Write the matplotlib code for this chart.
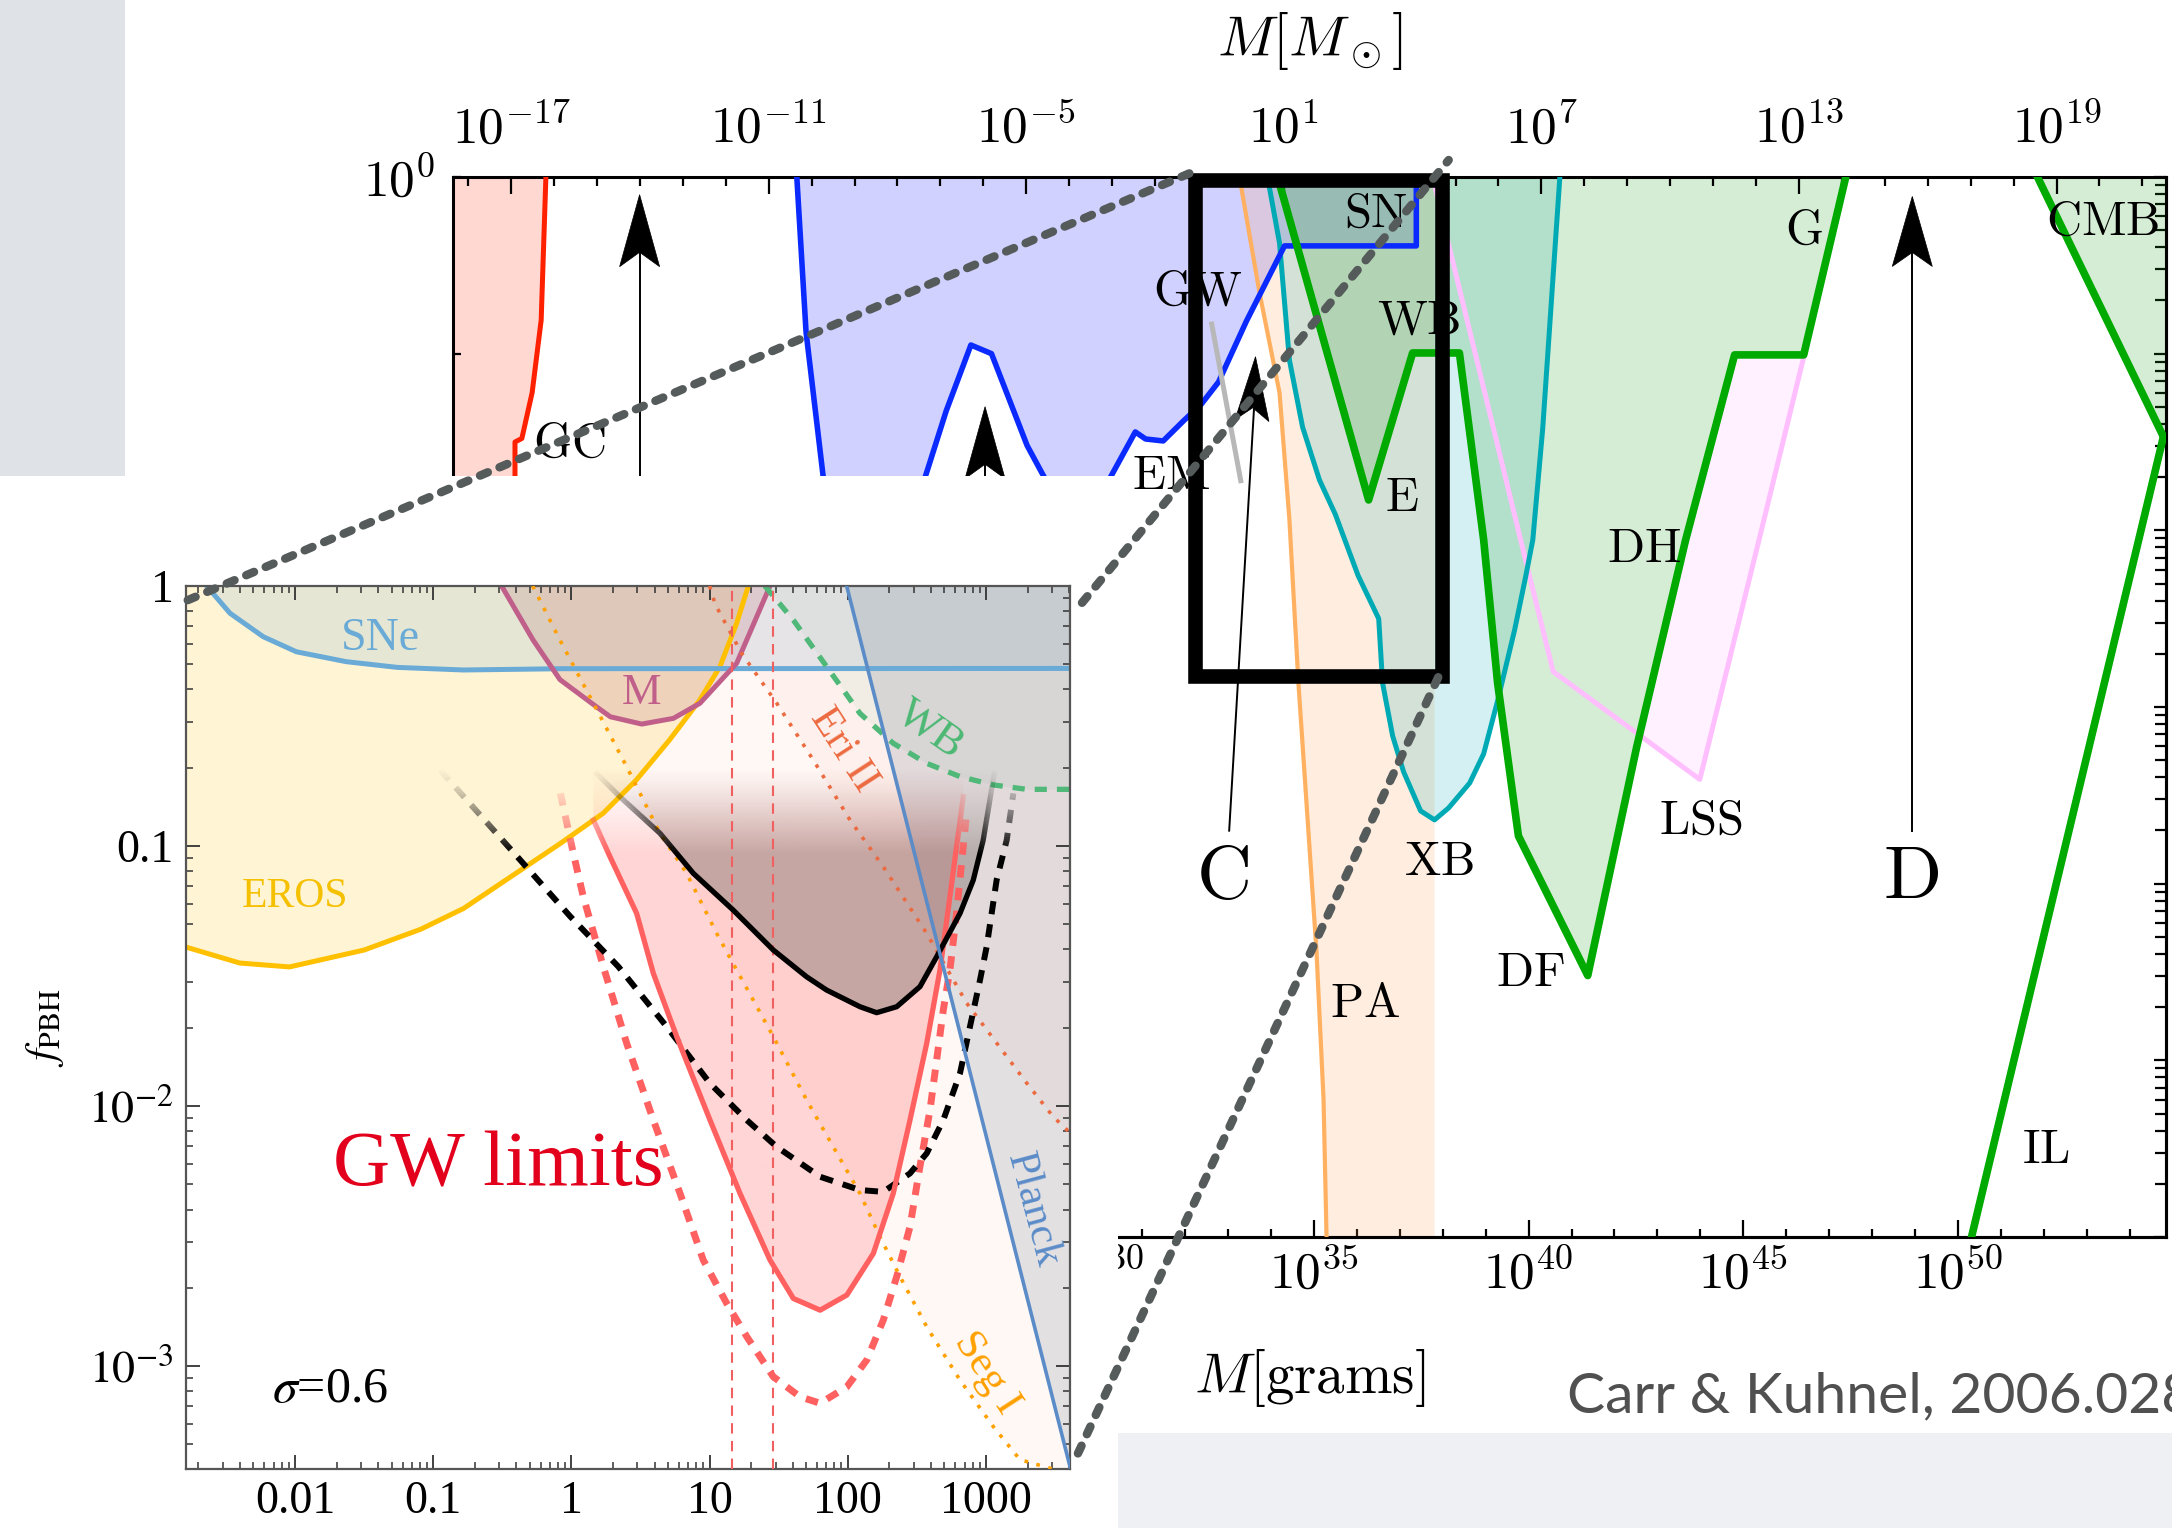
import numpy as np
import matplotlib
matplotlib.use("Agg")
import matplotlib.pyplot as plt
from matplotlib.patches import Rectangle, Polygon, ConnectionPatch
from matplotlib.transforms import Affine2D, ScaledTranslation
from matplotlib.ticker import FixedLocator, NullFormatter, FuncFormatter, LogLocator
from matplotlib.colors import to_rgb

plt.rcParams["mathtext.fontset"] = "cm"
plt.rcParams["font.family"] = ["DejaVu Sans"]

MSUN_G = 1.989e33

# ================= TOP PANEL (Carr & Kuhnel) : log10(M/Msun), log10 f =================
evap_logm = [-16.19, -16.30, -16.51, -16.75, -16.91, -16.91]
evap_logf = [0.0, -0.81, -1.22, -1.48, -1.50, -2.3]

lens_logm = [-10.345, -10.13, -9.73, -9.6, -7.5, -7.354, -6.865, -6.29, -5.81, -4.98, -4.58,
             -4.5, -3.1, -3.04, -2.46, -2.22, -1.81, -1.34, -0.92, -0.52, 0.13, 1.015, 4.086, 4.086]
lens_logf = [0.0, -0.877, -1.698, -2.3, -2.3, -1.698, -1.324, -0.951, -1.00, -1.52, -1.70,
             -2.3, -2.3, -1.70, -1.443, -1.483, -1.494, -1.381, -1.285, -1.16, -0.815, -0.39, -0.39, 0.0]

pa_logm = [-0.033, 0.434, 0.90, 1.13, 1.34, 1.76, 1.925, 1.995]
pa_logf = [0.0, -0.656, -1.222, -1.94, -2.864, -4.38, -5.22, -6.0]
pa_edge_logm = 4.513

accr_logm = [0.62, 0.90, 1.13, 1.436, 1.83, 2.2, 2.73, 3.21, 3.30, 3.535, 3.79, 4.186, 4.51, 4.84,
             5.33, 5.655, 5.98, 6.38, 6.635, 6.80, 7.03, 7.43]
accr_logf = [0.0, -0.374, -1.036, -1.415, -1.715, -1.91, -2.256, -2.50, -2.864, -3.164, -3.367,
             -3.588, -3.639, -3.571, -3.43, -3.265, -2.965, -2.56, -2.26, -2.054, -1.426, 0.0]

dyn_logm = [0.856, 2.975, 4.0, 5.09, 5.655, 5.98, 6.465, 8.08, 9.22, 10.36, 11.50, 13.11, 14.09]
dyn_logf = [0.0, -1.828, -0.996, -0.996, -2.054, -2.864, -3.73, -4.52, -3.226, -2.054, -1.007, -1.007, 0.0]

lss_logm = [4.47, 4.83, 6.63, 7.275, 10.69, 12.07, 13.11]
lss_logf = [0.0, -0.373, -2.167, -2.80, -3.41, -2.054, -1.02]

cmb_logm = [18.556, 21.49]
cmb_logf = [0.0, -1.47]
il_logm = [21.49, 17.02]
il_logf = [-1.47, -6.0]

gw_logm = [-0.69, 0.007]
gw_logf = [-0.819, -1.733]

top_labels = ["GC", "EM", "GW", "SN", "WB", "E", "G", "CMB", "DH", "XB", "LSS", "DF", "PA", "IL"]
top_label_logm = [-15.65, -1.62, -1.01, 3.15, 4.14, 3.74, 13.11, 20.08, 9.39, 4.62, 10.72, 6.75, 2.89, 18.76]
top_label_logf = [-1.505, -1.686, -0.645, -0.205, -0.81, -1.81, -0.30, -0.245, -2.10, -3.87, -3.64, -4.50, -4.675, -5.50]

big_labels = ["C", "D"]
big_label_logm = [-0.44, 15.60]
big_label_logf = [-3.96, -3.96]

arrow_tip_logm = [-14.007, -5.96, 0.34, 15.64]
arrow_tip_logf = [-0.10, -1.30, -1.017, -0.11]
arrow_tail_logm = [-14.007, -5.96, -0.273, 15.64]
arrow_tail_logf = [-2.5, -2.5, -3.70, -3.70]
arrow_head_len = [72, 72, 64, 70]
arrow_head_wid = [40, 40, 34, 40]

top_major_exps = [-17, -11, -5, 1, 7, 13, 19]
gram_major_exps = [15, 20, 25, 30, 35, 40, 45, 50, 55]
gram_labelled_exps = [15, 20, 25, 30, 35, 40, 45, 50]
top_ylabel_exps = [0]

box_logm = [-1.06, 4.676]
box_logf = [-2.824, -0.017]

# ================= INSET (sigma = 0.6) : log10(M/Msun), log10 f =================
eros_logm = [-2.80, -2.40, -2.04, -1.50, -1.09, -0.78, -0.08, 0.23, 0.47, 0.71, 0.93, 1.075, 1.196, 1.28]
eros_logf = [-1.387, -1.45, -1.465, -1.40, -1.32, -1.24, -0.99, -0.874, -0.746, -0.592, -0.438, -0.31, -0.143, 0.0]

sne_logm = [-2.64, -2.47, -2.23, -1.99, -1.63, -1.26, -0.78, -0.06, 3.70]
sne_logf = [0.0, -0.105, -0.195, -0.253, -0.291, -0.313, -0.323, -0.318, -0.317]

m_logm = [-0.505, -0.277, -0.083, 0.18, 0.282, 0.509, 0.738, 0.93, 1.196, 1.437]
m_logf = [0.0, -0.208, -0.36, -0.464, -0.503, -0.531, -0.509, -0.451, -0.297, 0.0]

wb_logm = [1.40, 1.606, 1.847, 2.088, 2.329, 2.571, 2.812, 3.053, 3.295, 3.70]
wb_logf = [0.0, -0.131, -0.31, -0.49, -0.605, -0.682, -0.733, -0.765, -0.782, -0.782]

planck_logm = [1.992, 3.608]
planck_logf = [0.0, -3.387]

eri_logm = [1.00, 1.04, 1.232, 1.486, 1.75, 2.016, 2.257, 2.571, 2.86, 3.295, 3.485, 3.70]
eri_logf = [0.0, -0.07, -0.259, -0.451, -0.669, -0.90, -1.08, -1.336, -1.604, -1.912, -2.04, -2.15]

seg_logm = [-0.28, -0.083, 0.159, 0.40, 0.641, 0.834, 1.051, 1.196, 1.461, 1.702, 1.922, 2.088,
            2.233, 2.378, 2.571, 2.812, 3.053, 3.246, 3.51]
seg_logf = [0.0, -0.208, -0.451, -0.695, -0.951, -1.105, -1.336, -1.477, -1.733, -1.977, -2.182,
            -2.336, -2.503, -2.656, -2.849, -3.054, -3.233, -3.36, -3.40]

blk_logm = [0.18, 0.35, 0.641, 0.882, 1.17, 1.461, 1.702, 1.847, 2.088, 2.209, 2.354, 2.522, 2.643,
            2.812, 2.908, 2.98, 3.06]
blk_logf = [-0.72, -0.81, -0.951, -1.105, -1.246, -1.40, -1.503, -1.554, -1.618, -1.641, -1.618,
            -1.541, -1.426, -1.259, -1.131, -0.977, -0.72]

blkd_logm = [-0.95, -0.37, -0.01, 0.34, 0.69, 1.003, 1.269, 1.486, 1.80, 2.088, 2.257, 2.45, 2.571,
             2.691, 2.812, 2.884, 2.957, 3.005, 3.077, 3.15, 3.198]
blkd_logf = [-0.708, -1.054, -1.27, -1.464, -1.695, -1.913, -2.054, -2.157, -2.272, -2.323, -2.33,
             -2.259, -2.182, -2.054, -1.874, -1.695, -1.515, -1.387, -1.131, -0.977, -0.797]

red_logm = [0.159, 0.279, 0.472, 0.593, 0.762, 1.003, 1.22, 1.437, 1.606, 1.80, 1.993, 2.185, 2.329,
            2.45, 2.571, 2.667, 2.739, 2.787, 2.836]
red_logf = [-0.90, -1.041, -1.259, -1.49, -1.733, -2.054, -2.336, -2.592, -2.74, -2.785, -2.727,
            -2.567, -2.336, -2.054, -1.759, -1.477, -1.195, -1.003, -0.81]

redd_logm = [-0.08, 0.014, 0.086, 0.231, 0.40, 0.593, 0.786, 0.954, 1.124, 1.269, 1.461, 1.654, 1.80,
             1.993, 2.137, 2.257, 2.354, 2.45, 2.522, 2.595, 2.643, 2.691, 2.739, 2.787, 2.823, 2.86]
redd_logf = [-0.797, -1.028, -1.195, -1.464, -1.759, -2.054, -2.336, -2.592, -2.759, -2.887, -3.041,
             -3.118, -3.143, -3.08, -2.977, -2.823, -2.656, -2.464, -2.233, -2.015, -1.823, -1.631,
             -1.477, -1.259, -1.067, -0.874]

vline_masses = [14.5, 28.9]

inset_xticks = [0.01, 0.1, 1, 10, 100, 1000]
inset_xticklabels = ["0.01", "0.1", "1", "10", "100", "1000"]
inset_yticks = [1e-3, 1e-2, 0.1, 1]
inset_yticklabels = [r"$10^{-3}$", r"$10^{-2}$", "0.1", "1"]

inset_labels = ["SNe", "EROS", "M", "WB", "Eri II", "Planck", "Seg I"]
inset_label_logm = [-1.385, -2.0, 0.509, 2.595, 1.968, 3.342, 3.005]
inset_label_logf = [-0.201, -1.195, -0.413, -0.554, -0.631, -2.40, -3.028]
inset_label_rot = [0, 0, 0, -35, -57, -75, -57]
inset_label_size = [33, 30, 32, 32, 31, 31, 31]
inset_label_col = ["#6aaad6", "#f5c000", "#c0608a", "#4cb874", "#ec6a40", "#5b8cc8", "#ffa000"]


def P(a):
    return 10.0 ** np.asarray(a, dtype=float)


def exp_label(v, allowed):
    k = int(round(np.log10(v)))
    return r"$10^{%d}$" % k if k in allowed else ""


def first_crossing(ax_, ay_, bx_, by_, i0=0, j0=0):
    for i in range(i0, len(ax_) - 1):
        p = np.array([ax_[i], ay_[i]])
        r = np.array([ax_[i + 1] - ax_[i], ay_[i + 1] - ay_[i]])
        for j in range(j0, len(bx_) - 1):
            q = np.array([bx_[j], by_[j]])
            s = np.array([bx_[j + 1] - bx_[j], by_[j + 1] - by_[j]])
            den = r[0] * s[1] - r[1] * s[0]
            if abs(den) < 1e-12:
                continue
            t = ((q - p)[0] * s[1] - (q - p)[1] * s[0]) / den
            u = ((q - p)[0] * r[1] - (q - p)[1] * r[0]) / den
            if 0 <= t <= 1 and 0 <= u <= 1:
                return i, j, p + t * r
    return None


fig = plt.figure(figsize=(21.72, 15.28), dpi=100)
fig.patch.set_facecolor("white")

# ---------------------------------------------------------------- top panel
ax = fig.add_axes([453 / 2172, 1 - 1237 / 1528, (2166 - 453) / 2172, (1237 - 177) / 1528], zorder=0)
ax.set_xscale("log")
ax.set_yscale("log")
XR = (10 ** -18.354, 10 ** 21.55)
ax.set_xlim(XR)
ax.set_ylim(1e-6, 1)

# LSS excluded region: between the pink curve and the green DH arm
ci, cj, cpt = first_crossing(lss_logm, lss_logf, dyn_logm, dyn_logf, i0=3, j0=7)
lss_fill_m = [cpt[0]] + lss_logm[ci + 1:] + dyn_logm[cj + 1:len(dyn_logm) - 1][::-1]
lss_fill_f = [cpt[1]] + lss_logf[ci + 1:] + dyn_logf[cj + 1:len(dyn_logf) - 1][::-1]

# fills
ax.fill(np.r_[P(evap_logm), XR[0], XR[0]], np.r_[P(evap_logf), P(evap_logf[-1]), 1.0],
        color="#ff2a00", alpha=0.18, lw=0, zorder=1)
ax.fill(P(lens_logm), P(lens_logf), color="#0000ff", alpha=0.18, lw=0, zorder=1)
ax.fill(np.r_[P(pa_logm), P(pa_edge_logm), P(pa_edge_logm)], np.r_[P(pa_logf), 1e-6, 1.0],
        color="#ffa050", alpha=0.18, lw=0, zorder=1)
ax.fill(P(accr_logm), P(accr_logf), color="#00aab4", alpha=0.17, lw=0, zorder=1)
ax.fill(P(dyn_logm), P(dyn_logf), color="#20a020", alpha=0.19, lw=0, zorder=1)
ax.fill(P(lss_fill_m), P(lss_fill_f), color="#ff80ff", alpha=0.11, lw=0, zorder=1)
ax.fill(np.r_[P(cmb_logm), XR[1], XR[1]], np.r_[P(cmb_logf), P(cmb_logf[-1]), 1.0],
        color="#20a020", alpha=0.19, lw=0, zorder=1)

# lines
ax.plot(P(lss_logm), P(lss_logf), color="#ffbfff", lw=3.6, zorder=3)
ax.plot(P(pa_logm), P(pa_logf), color="#ffb060", lw=3.0, zorder=3)
ax.plot(P(accr_logm), P(accr_logf), color="#00aab4", lw=3.6, zorder=3)
ax.plot(P(lens_logm), P(lens_logf), color="#0a2aff", lw=4.0, zorder=3)
ax.plot(P(evap_logm), P(evap_logf), color="#ff2000", lw=3.6, zorder=3)
ax.plot(P(dyn_logm), P(dyn_logf), color="#00aa00", lw=5.5, zorder=4)
ax.plot(P(cmb_logm), P(cmb_logf), color="#00aa00", lw=5.5, zorder=4)
ax.plot(P(il_logm), P(il_logf), color="#00aa00", lw=5.5, zorder=4)
ax.plot(P(gw_logm), P(gw_logf), color="#b8b8b8", lw=3.6, zorder=4, solid_capstyle="butt")

for lab, lm, lf in zip(top_labels, top_label_logm, top_label_logf):
    ax.text(P(lm), P(lf), r"$\mathrm{%s}$" % lab, fontsize=35, ha="center", va="center", zorder=6)
for lab, lm, lf in zip(big_labels, big_label_logm, big_label_logf):
    ax.text(P(lm), P(lf), r"$\mathrm{%s}$" % lab, fontsize=55, ha="center", va="center", zorder=6)

# arrows (shaft + stealth head)
for tm, tf, sm, sf, hl, hw in zip(arrow_tip_logm, arrow_tip_logf, arrow_tail_logm, arrow_tail_logf,
                                  arrow_head_len, arrow_head_wid):
    ax.plot([P(sm), P(tm)], [P(sf), P(tf) * 10 ** -0.15], color="black", lw=1.4, zorder=7)
    x0, y0 = ax.transData.transform((P(tm), P(tf)))
    x1, y1 = ax.transData.transform((P(sm), P(sf)))
    ang = np.arctan2(y0 - y1, x0 - x1) - np.pi / 2
    verts = np.array([[0, 0], [hw / 2, -hl], [0, -0.8 * hl], [-hw / 2, -hl]])
    tr = Affine2D().rotate(ang) + ScaledTranslation(P(tm), P(tf), ax.transData)
    ax.add_patch(Polygon(verts, closed=True, transform=tr, facecolor="black", edgecolor="black",
                         lw=0.5, zorder=8))

# zoom box
ax.add_patch(Rectangle((P(box_logm[0]), P(box_logf[0])), P(box_logm[1]) - P(box_logm[0]),
                       P(box_logf[1]) - P(box_logf[0]), fill=False, edgecolor="black", lw=10.5,
                       joinstyle="miter", clip_on=False, zorder=20))

# axes styling
for s in ax.spines.values():
    s.set_linewidth(2.2)
ax.xaxis.set_ticks_position("top")
ax.xaxis.set_major_locator(FixedLocator(P(top_major_exps)))
ax.xaxis.set_minor_locator(FixedLocator(P(np.arange(-18, 22))))
ax.xaxis.set_major_formatter(FuncFormatter(lambda v, p: exp_label(v, top_major_exps)))
ax.xaxis.set_minor_formatter(NullFormatter())
ax.tick_params(axis="x", which="major", direction="in", length=12, width=1.6, labelsize=37, pad=17,
               top=True, bottom=False, labeltop=True, labelbottom=False)
ax.tick_params(axis="x", which="minor", direction="in", length=6.5, width=1.6, top=True, bottom=False)
ax.yaxis.set_major_locator(FixedLocator(P(np.arange(-6, 1))))
ax.yaxis.set_major_formatter(FuncFormatter(lambda v, p: exp_label(v, top_ylabel_exps)))
ax.yaxis.set_minor_formatter(NullFormatter())
ax.yaxis.set_minor_locator(FixedLocator([]))
ax.tick_params(axis="y", which="major", direction="in", length=6, width=1.6, labelsize=37, pad=13,
               left=True, right=False)

secx = ax.secondary_xaxis("bottom", functions=(lambda m: m * MSUN_G, lambda g: g / MSUN_G))
secx.xaxis.set_major_locator(FixedLocator(P(gram_major_exps)))
secx.xaxis.set_minor_locator(FixedLocator(P(np.arange(15, 56))))
secx.xaxis.set_major_formatter(FuncFormatter(lambda v, p: exp_label(v, gram_labelled_exps)))
secx.xaxis.set_minor_formatter(NullFormatter())
secx.tick_params(which="major", direction="in", length=12, width=1.6, labelsize=37, pad=9)
secx.tick_params(which="minor", direction="in", length=6, width=1.6)
secx.spines["bottom"].set_linewidth(2.2)

secy = ax.secondary_yaxis("right")
secy.yaxis.set_major_locator(FixedLocator(P(np.arange(-6, 1))))
secy.yaxis.set_minor_locator(LogLocator(base=10, subs=np.arange(2, 10)))
secy.yaxis.set_major_formatter(NullFormatter())
secy.yaxis.set_minor_formatter(NullFormatter())
secy.tick_params(which="major", direction="in", length=9, width=1.6)
secy.tick_params(which="minor", direction="in", length=8, width=1.6)
secy.spines["right"].set_linewidth(2.2)

# ---------------------------------------------------------------- page decorations
fig.add_artist(Rectangle((0, 0), 1118 / 2172, 1 - 476 / 1528, transform=fig.transFigure,
                         facecolor="white", edgecolor="none", zorder=1))
fig.add_artist(Rectangle((0, 1 - 476 / 1528), 125 / 2172, 476 / 1528, transform=fig.transFigure,
                         facecolor="#dfe2e6", edgecolor="none", zorder=1.5))
fig.add_artist(Rectangle((1118 / 2172, 0), 1 - 1118 / 2172, 95 / 1528, transform=fig.transFigure,
                         facecolor="#eef0f3", edgecolor="none", zorder=1.5))
fig.text(1310 / 2172, 1 - 41 / 1528, r"$M[M_\odot]$", fontsize=41, ha="center", va="center", zorder=3)
fig.text(1310 / 2172, 1 - 1378 / 1528, r"$M[\mathrm{grams}]$", fontsize=41, ha="center", va="center",
         zorder=3)
fig.text(1567 / 2172, 1 - 1397 / 1528, "Carr & Kuhnel, 2006.02838", fontsize=41, color="#505050",
         family=["Lato", "DejaVu Sans"], fontweight="normal", ha="left", va="center", zorder=3)

# ---------------------------------------------------------------- inset
axi = fig.add_axes([186 / 2172, 1 - 1469.3 / 1528, (1070 - 186) / 2172, (1469.3 - 586) / 1528], zorder=2)
axi.set_facecolor("white")
axi.set_xscale("log")
axi.set_yscale("log")
IXR = (10 ** -2.789, 10 ** 3.608)
IYR = (10 ** -3.397, 1.0)
axi.set_xlim(IXR)
axi.set_ylim(IYR)

TOPF = 1.0
# plain fills
axi.fill_between(P(eros_logm), P(eros_logf), TOPF, color="#ffc000", alpha=0.17, lw=0, zorder=1)
axi.fill_between(P(sne_logm), P(sne_logf), TOPF, color="#6aaad6", alpha=0.17, lw=0, zorder=1)
axi.fill_between(P(m_logm), P(m_logf), TOPF, color="#b8707a", alpha=0.22, lw=0, zorder=1)
axi.fill_between(P(wb_logm), P(wb_logf), TOPF, color="#50b878", alpha=0.07, lw=0, zorder=1)
axi.fill_between(np.r_[P(seg_logm), 10 ** 3.7], np.r_[P(seg_logf), 10 ** -3.6], TOPF,
                 color="#ff9060", alpha=0.06, lw=0, zorder=1)
axi.fill_between(P(eri_logm), P(eri_logf), TOPF, color="#f08060", alpha=0.05, lw=0, zorder=1)
axi.fill_between(np.r_[P(planck_logm), 10 ** 3.7], np.r_[P(planck_logf), 10 ** -3.6], TOPF,
                 color="#5a6a88", alpha=0.17, lw=0, zorder=1)

# faded GW constraints (vertical transparency gradient)
ramp_top, ramp_bot = -0.70, -1.03


def ramp_of(logf):
    return np.clip((ramp_top - np.asarray(logf)) / (ramp_top - ramp_bot), 0, 1) ** 1.3


ny = 1600
row_f = np.linspace(IYR[0], 1.0, ny)
row_alpha = ramp_of(np.log10(row_f))


def gradient_fill(logm, logf, color, alpha, z):
    poly = axi.fill_between(P(logm), P(logf), TOPF, facecolor="none", edgecolor="none", lw=0)
    rgba = np.zeros((ny, 2, 4))
    rgba[..., :3] = to_rgb(color)
    rgba[..., 3] = (alpha * row_alpha)[:, None]
    im = axi.imshow(rgba, extent=(IXR[0], IXR[1], IYR[0], 1.0), origin="lower", aspect="auto",
                    interpolation="bilinear", zorder=z)
    im.set_clip_path(poly.get_paths()[0], axi.transData)


gradient_fill(red_logm, red_logf, "#ff5050", 0.24, 1.5)
gradient_fill(blk_logm, blk_logf, "#786e69", 0.42, 1.6)

nb = 40
edges = np.linspace(ramp_top, ramp_bot, nb + 1)
bands = []
for i in range(nb):
    bands.append((edges[i + 1], edges[i], float(ramp_of(0.5 * (edges[i] + edges[i + 1])))))
bands.append((-4.0, ramp_bot, 1.0))


def faded(fn):
    for lo, hi, a in bands:
        clip = Rectangle((1e-4, P(lo)), 1e5, P(hi) - P(lo), transform=axi.transData)
        for art in fn(a):
            art.set_clip_path(clip)


faded(lambda a: axi.plot(P(redd_logm), P(redd_logf), color="#ff6060", lw=5.0, alpha=a,
                         ls=(0, (1.8, 1.5)), zorder=3))
faded(lambda a: axi.plot(P(blkd_logm), P(blkd_logf), color="black", lw=4.3, alpha=a,
                         ls=(0, (2.2, 1.7)), zorder=3.1))
faded(lambda a: axi.plot(P(red_logm), P(red_logf), color="#ff6060", lw=3.8, alpha=a, zorder=3.2))
faded(lambda a: axi.plot(P(blk_logm), P(blk_logf), color="black", lw=3.8, alpha=a, zorder=3.3))

# other lines
axi.plot(P(eros_logm), P(eros_logf), color="#ffc000", lw=3.6, zorder=2.5)
axi.plot(P(sne_logm), P(sne_logf), color="#6aaad6", lw=3.6, zorder=2.5)
axi.plot(P(m_logm), P(m_logf), color="#c0608a", lw=3.6, zorder=2.5)
axi.plot(P(wb_logm), P(wb_logf), color="#50b878", lw=3.8, ls=(0, (2.3, 1.9)), zorder=2.5)
axi.plot(P(planck_logm), P(planck_logf), color="#5b8cc8", lw=2.6, zorder=3.5)
axi.plot(P(eri_logm), P(eri_logf), color="#ec6a40", lw=2.6, ls=(0, (1, 2.4)), zorder=2.6)
axi.plot(P(seg_logm), P(seg_logf), color="#ffa000", lw=2.6, ls=(0, (1, 2.4)), zorder=2.6)
for vm in vline_masses:
    axi.axvline(vm, color="#f06060", lw=1.5, ls=(0, (5, 3.5)), zorder=2.7)

for lab, lm, lf, rot, sz, col in zip(inset_labels, inset_label_logm, inset_label_logf, inset_label_rot,
                                     inset_label_size, inset_label_col):
    axi.text(P(lm), P(lf), lab, fontsize=sz, color=col, rotation=rot, rotation_mode="anchor",
             ha="center", va="center", family=["Liberation Serif"], zorder=5)
axi.text(P(-0.53), P(-2.233), "GW limits", fontsize=57, color="#e2001c", ha="center", va="center",
         family=["Liberation Serif"], zorder=6)
axi.text(P(-1.749), P(-3.09), r"$\sigma$=0.6", fontsize=36, color="black", ha="center", va="center",
         family=["Liberation Serif"], math_fontfamily="stix", zorder=6)

for s in axi.spines.values():
    s.set_linewidth(1.6)
    s.set_color("#555555")
axi.xaxis.set_major_locator(FixedLocator(inset_xticks))
axi.xaxis.set_major_formatter(FuncFormatter(lambda v, p: inset_xticklabels[inset_xticks.index(
    min(inset_xticks, key=lambda t: abs(np.log10(t) - np.log10(v))))]))
axi.xaxis.set_minor_locator(LogLocator(base=10, subs=np.arange(2, 10), numticks=50))
axi.xaxis.set_minor_formatter(NullFormatter())
axi.yaxis.set_major_locator(FixedLocator(inset_yticks))
axi.yaxis.set_major_formatter(FuncFormatter(lambda v, p: inset_yticklabels[inset_yticks.index(
    min(inset_yticks, key=lambda t: abs(np.log10(t) - np.log10(v))))]))
axi.yaxis.set_minor_locator(LogLocator(base=10, subs=np.arange(2, 10), numticks=50))
axi.yaxis.set_minor_formatter(NullFormatter())
axi.tick_params(which="both", direction="in", top=True, right=True, color="#333333")
axi.tick_params(which="major", length=10, width=1.3, labelsize=33, labelcolor="black")
axi.tick_params(which="minor", length=5, width=1.1)
axi.tick_params(axis="x", which="major", pad=8)
axi.tick_params(axis="y", which="major", pad=9)
for t in axi.xaxis.get_major_ticks() + axi.yaxis.get_major_ticks():
    t.label1.set_fontfamily(["Liberation Serif"])
    t.label1.set_math_fontfamily("stix")

fig.text(45 / 2172, 1 - 1028 / 1528, r"$f_{\rm PBH}$", fontsize=31, rotation=90, ha="center",
         va="center", math_fontfamily="stix", zorder=3)

# dotted connector lines (inset corners -> zoom box corners)
conn_a = [(0.002, 0.984), (1.0136, 0.981), (1.009, 0.018)]
conn_b_logm = [-1.128, 4.84, 4.676]
conn_b_logf = [0.028, 0.096, -2.79]
for (xa, ya), bm, bf in zip(conn_a, conn_b_logm, conn_b_logf):
    con = ConnectionPatch(xyA=(xa, ya), coordsA=axi.transAxes, xyB=(P(bm), P(bf)), coordsB=ax.transData,
                          color="#555a5a", lw=6.1, linestyle=(0, (1, 1.5)), zorder=5, clip_on=False)
    fig.add_artist(con)

ax.set_xlim(XR)
ax.set_ylim(1e-6, 1)
axi.set_xlim(IXR)
axi.set_ylim(IYR)

fig.savefig("out.png", dpi=100)
